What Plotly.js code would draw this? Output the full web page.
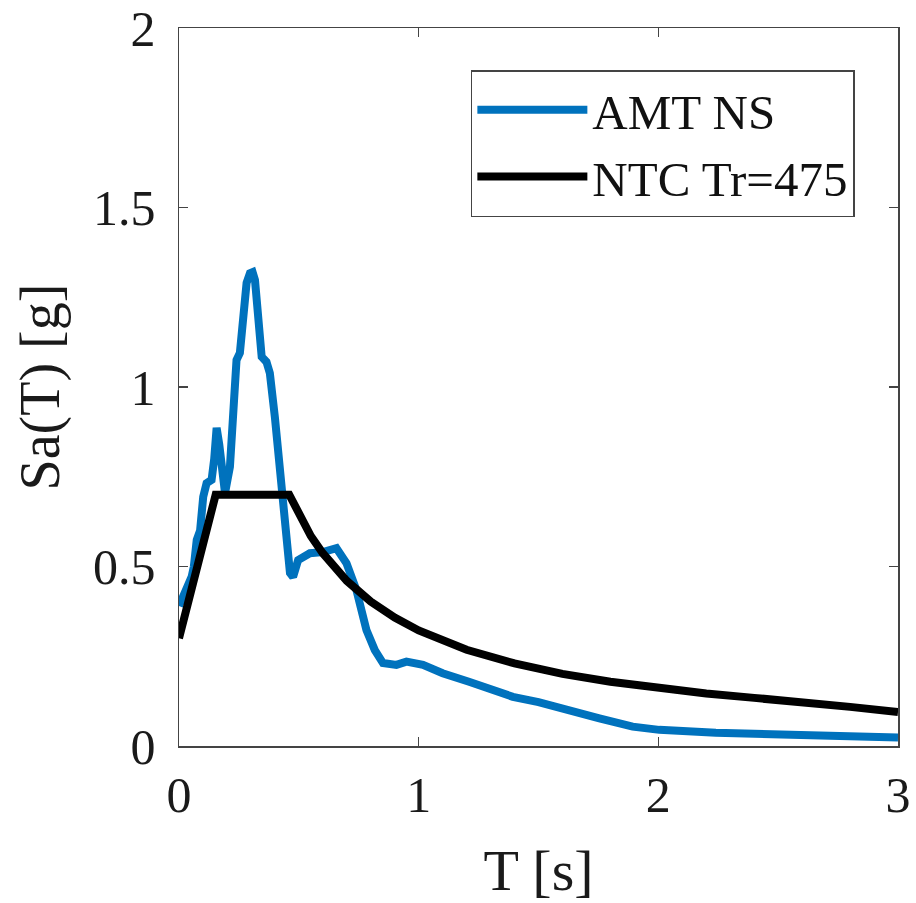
<!DOCTYPE html>
<html>
<head>
<meta charset="utf-8">
<script src="https://cdn.plot.ly/plotly-3.0.1.min.js"></script>
<style>html,body{margin:0;padding:0;background:#fff;}#chart{width:916px;height:903px;}</style>
</head>
<body>
<div id="chart"></div>
<script>
const amtT  = [0.0, 0.011, 0.032, 0.053, 0.062, 0.074, 0.088, 0.101, 0.115, 0.136, 0.147, 0.157, 0.168, 0.178, 0.192, 0.2125, 0.226, 0.24, 0.254, 0.268, 0.282, 0.296, 0.307, 0.317, 0.33, 0.345, 0.365, 0.379, 0.4, 0.428, 0.449, 0.463, 0.476, 0.497, 0.546, 0.6, 0.657, 0.684, 0.699, 0.74, 0.782, 0.817, 0.851, 0.907, 0.949, 1.018, 1.1, 1.21, 1.296, 1.393, 1.5, 1.588, 1.754, 1.893, 2.004, 2.24, 2.59, 3.0];
const amtSa = [0.39, 0.407, 0.448, 0.472, 0.50, 0.574, 0.60, 0.694, 0.732, 0.741, 0.80, 0.886, 0.84, 0.797, 0.705, 0.778, 0.964, 1.075, 1.095, 1.214, 1.29, 1.317, 1.32, 1.298, 1.195, 1.084, 1.07, 1.039, 0.916, 0.732, 0.593, 0.482, 0.471, 0.518, 0.537, 0.54, 0.551, 0.527, 0.509, 0.435, 0.323, 0.267, 0.231, 0.226, 0.235, 0.226, 0.2025, 0.179, 0.161, 0.137, 0.122, 0.105, 0.077, 0.054, 0.045, 0.037, 0.0325, 0.024];

// NTC elastic design spectrum, return period 475 years
const ntcT  = [0.0, 0.153, 0.46, 0.5, 0.55, 0.6, 0.7, 0.8, 0.9, 1.0, 1.2, 1.4, 1.6, 1.8, 2.0, 2.2, 2.4, 2.65, 2.8, 3.0];
const ntcSa = [0.30, 0.70, 0.70, 0.644, 0.585, 0.537, 0.460, 0.4025, 0.358, 0.322, 0.268, 0.230, 0.201, 0.179, 0.161, 0.146, 0.134, 0.1215, 0.109, 0.095];

const seriesNames = ["AMT NS", "NTC Tr=475"];
const xTicks = [0, 1, 2, 3];
const xTickText = ["0", "1", "2", "3"];
const yTicks = [0, 0.5, 1, 1.5, 2];
const yTickText = ["0", "0.5", "1", "1.5", "2"];

const serif = "Liberation Serif, Times New Roman, serif";

const traces = [
  {x: amtT, y: amtSa, name: seriesNames[0], type: "scatter", mode: "lines",
   line: {color: "#0072BD", width: 8}},
  {x: ntcT, y: ntcSa, name: seriesNames[1], type: "scatter", mode: "lines",
   line: {color: "#000000", width: 8}}
];

const axisCommon = {
  showgrid: false, zeroline: false, showline: true, linecolor: "#444", linewidth: 1.5,
  mirror: "ticks", ticks: "inside", ticklen: 9, tickwidth: 1.5, tickcolor: "#444",
  tickfont: {family: serif, size: 50, color: "#1a1a1a"}
};

const layout = {
  width: 916, height: 903,
  margin: {l: 179, r: 18, t: 28, b: 157},
  paper_bgcolor: "#fff", plot_bgcolor: "#fff",
  showlegend: true,
  legend: {x: 0.94, y: 0.9415, xanchor: "right", yanchor: "top",
           bordercolor: "#444", borderwidth: 1.5, bgcolor: "#fff",
           font: {family: serif, size: 49, color: "#111"}, itemwidth: 110,
           tracegroupgap: 0},
  xaxis: Object.assign({}, axisCommon, {
    range: [0, 3], tickvals: xTicks, ticktext: xTickText, ticklabelstandoff: 4,
    title: {text: "T [s]", font: {family: serif, size: 58, color: "#1a1a1a"}, standoff: 30}
  }),
  yaxis: Object.assign({}, axisCommon, {
    range: [0, 2], tickvals: yTicks, ticktext: yTickText, ticklabelstandoff: 12,
    title: {text: "Sa(T) [g]", font: {family: serif, size: 56, color: "#1a1a1a"}, standoff: 15}
  })
};

Plotly.newPlot("chart", traces, layout, {staticPlot: true, displayModeBar: false});
</script>
</body>
</html>
